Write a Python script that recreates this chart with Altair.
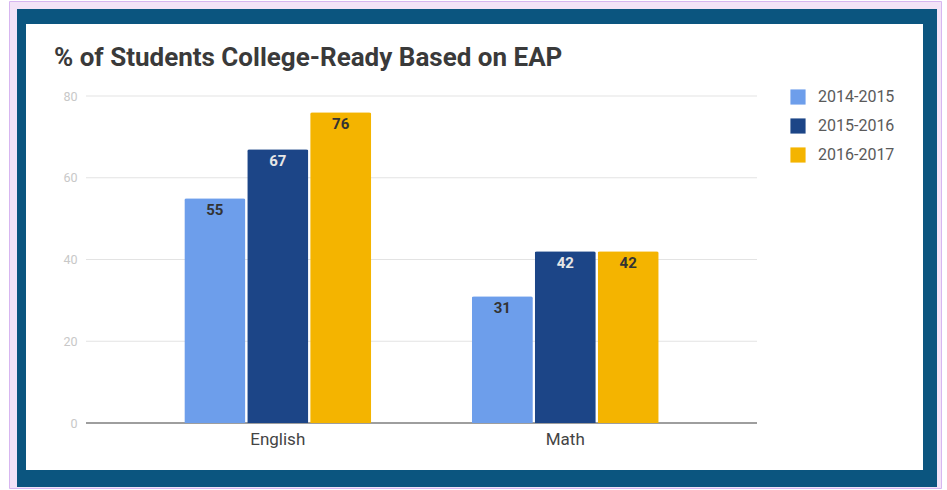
import altair as alt
import pandas as pd

subjects = ["English", "English", "English", "Math", "Math", "Math"]
years = ["2014-2015", "2015-2016", "2016-2017", "2014-2015", "2015-2016", "2016-2017"]
values = [55, 67, 76, 31, 42, 42]
year_order = ["2014-2015", "2015-2016", "2016-2017"]
year_colors = ["#6d9eeb", "#1c4587", "#f4b400"]
grid_ticks = [20, 40, 60, 80]
axis_ticks = [0, 20, 40, 60, 80]
title_text = "% of Students College-Ready Based on EAP"

df = pd.DataFrame({"subject": subjects, "year": years, "value": values})
grid_df = pd.DataFrame({"tick": grid_ticks})
one = pd.DataFrame({"a": [0]})

W, H = 671, 327
PL, PT = 86, 96
FONT = "Roboto"

# decorative frame (pixel coordinates relative to plot origin)
def box(x0, y0, x1, y1, fill, stroke=None):
    kw = dict(fill=fill)
    if stroke:
        kw.update(stroke=stroke, strokeWidth=1)
    return alt.Chart(one).mark_rect(**kw).encode(
        x=alt.value(x0 - PL), x2=alt.value(x1 - PL),
        y=alt.value(y0 - PT), y2=alt.value(y1 - PT))

lav = box(9.5, 1.5, 941.5, 488.5, "#f3e3f7", "#d7b6f0")
frame = box(17, 9, 937, 487, "#0b557f")
inner = box(26, 24, 923, 470, "#ffffff")

yscale = alt.Scale(domain=[0, 80])
yaxis = alt.Axis(title=None, values=axis_ticks, grid=False, ticks=False,
                 domain=False, labelFont=FONT, labelFontSize=12.5,
                 labelColor="#c8c8c8", labelPadding=9, zindex=1)

grid = alt.Chart(grid_df).mark_rule(color="#e3e3e3", strokeWidth=1).encode(
    y=alt.Y("tick:Q", scale=yscale, axis=yaxis))
zero = alt.Chart(one).mark_rule(color="#9e9e9e", strokeWidth=2).encode(
    y=alt.Y("a:Q", scale=yscale, axis=yaxis))

xenc = alt.X("subject:N", sort=["English", "Math"],
             scale=alt.Scale(paddingInner=0.35, paddingOuter=0.342),
             axis=alt.Axis(title=None, labelAngle=0, ticks=False, domain=False,
                           labelFont=FONT, labelFontSize=17, labelColor="#444444",
                           labelPadding=8, zindex=1))
xoff = alt.XOffset("year:N", sort=year_order,
                   scale=alt.Scale(paddingInner=0.03, paddingOuter=0))

base = alt.Chart(df).encode(x=xenc, xOffset=xoff)

bars = base.mark_bar(cornerRadiusTopLeft=2, cornerRadiusTopRight=2).encode(
    y=alt.Y("value:Q", scale=yscale, axis=yaxis),
    color=alt.Color("year:N", sort=year_order,
                    scale=alt.Scale(domain=year_order, range=year_colors),
                    legend=alt.Legend(title=None, orient="none", legendX=704,
                                      legendY=-7, symbolType="square",
                                      symbolSize=230, symbolStrokeWidth=0,
                                      labelFont=FONT, labelFontSize=16,
                                      labelColor="#5a5a5a", labelOffset=12,
                                      rowPadding=13)))

labels = base.mark_text(baseline="top", dy=5, font=FONT, fontSize=15,
                        fontWeight="bold").encode(
    y=alt.Y("value:Q", scale=yscale, axis=yaxis),
    text=alt.Text("value:Q"),
    color=alt.condition(alt.datum.year == "2015-2016",
                        alt.value("#e6e6e6"), alt.value("#333333")))

chart = alt.layer(lav, frame, inner, grid, zero, bars, labels).properties(
    width=W, height=H,
    title=alt.TitleParams(title_text, anchor="start", frame="group", dx=-32,
                          font=FONT, fontSize=26, fontWeight="bold",
                          color="#3a3a3a", offset=0, baseline="alphabetic",
                          dy=91),
    padding={"left": PL, "top": PT, "right": 947 - PL - W, "bottom": 490 - PT - H},
    autosize=alt.AutoSizeParams(type="none"),
).configure_view(stroke=None).configure(background="#ffffff")

chart.save("out.html", embed_options={"renderer": "svg", "actions": False})
